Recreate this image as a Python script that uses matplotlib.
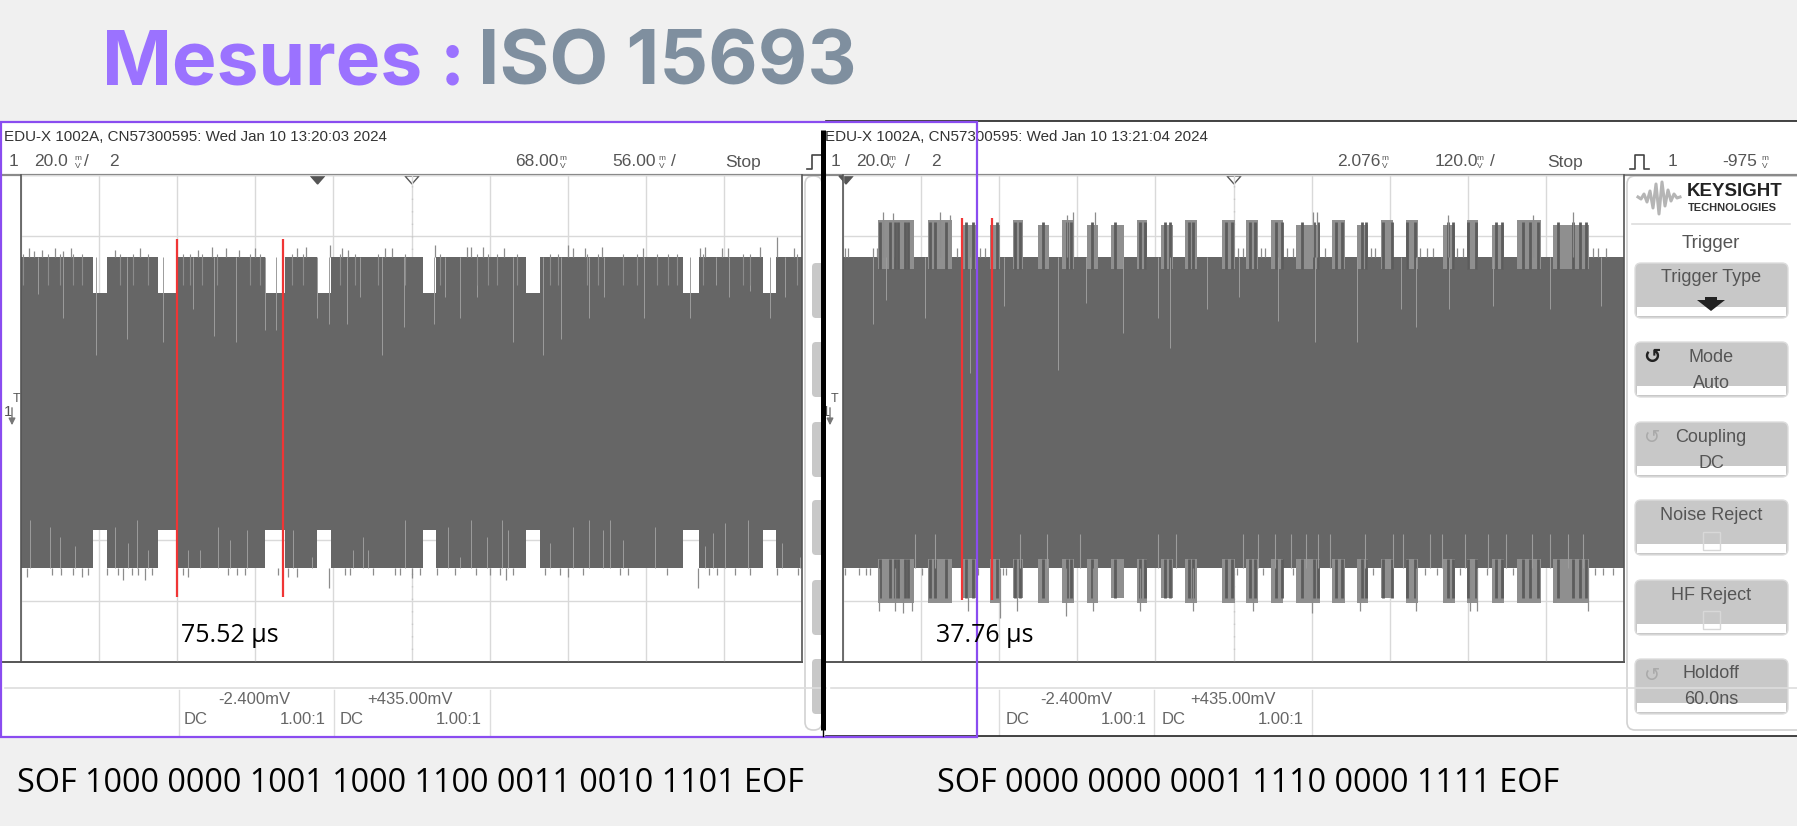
import matplotlib
matplotlib.use('Agg')
from matplotlib import pyplot as plt
from matplotlib.patches import Rectangle, FancyBboxPatch, Polygon

# --- scope 1 : 56 us/div, 20 mV/div ---
LEFT_GAPS = [(51.6, 61.7), (98, 111), (174.6, 189), (212, 222), (288, 297.6),
             (362, 372), (475, 486), (532, 541)]
LEFT_CORE_TOP, LEFT_CORE_BOT = 53, -49
LEFT_GAP_TOP, LEFT_GAP_BOT = 41.2, -36.6
LEFT_SPIKES_TOP = [(6, 55.9), (9, 55), (15.3, 55.5), (24.4, 56), (30.4, 55), (35.6, 56), (67.4, 55.5),
                   (85.3, 56), (127, 55.5), (136.7, 56.5), (147, 56), (156, 55.5), (168, 56), (198, 56),
                   (204.4, 56.5), (221.6, 57), (230, 56), (234.7, 55.5), (261, 56), (266, 56), (297, 57),
                   (320, 56.5), (323, 56.5), (331, 56.5), (346, 56), (392.5, 57), (396, 56), (404.5, 56),
                   (416.5, 56.5), (446, 56), (487, 56), (490.5, 56.5), (502.5, 56), (507, 56), (530, 56.5),
                   (542, 59.5), (554, 56)]
LEFT_NOTCH_TOP = [(12, 41), (30, 33), (54, 21), (76, 26), (102, 25), (123, 36), (138.5, 27), (154, 25), (175, 29),
                  (183, 29), (212, 33), (221, 31), (234, 31), (243, 40), (259, 21), (274.5, 30), (296, 31),
                  (304, 40), (315, 33), (327, 40), (353, 25), (374, 21), (387, 26), (407, 33), (418, 40),
                  (447, 33), (480, 33), (498, 44), (508, 40), (523, 42), (537, 33), (548, 40)]
LEFT_SHORT_TOP = [1.7, 19.6, 28, 37.5, 43.5, 71, 80.6, 91.3, 116.4, 121, 129.6, 140.3, 164.2, 171.4, 194, 202.5, 228.7,
                  239.5, 256.3, 275.4, 300.5, 326.8, 335, 341, 355.5, 379.4, 385.4, 405.7, 414, 432, 441.5, 455.9,
                  464.2, 470.2, 489.3, 518, 522.8, 556.2]
LEFT_SPIKES_BOT = [(4.1, -52), (22, -51.4), (29, -51.4), (37.5, -51.4), (43.5, -52), (48.3, -51.4), (61.4, -51.4),
                   (69.8, -51.4), (73.4, -53), (79.4, -51.4), (84.1, -51.4), (89, -53), (93.7, -51.4), (116.4, -51.4),
                   (120, -52), (148.7, -51.4), (154.7, -51.4), (160.6, -51.4), (184.5, -51.4), (191.7, -52),
                   (197.7, -52), (221, -55.7), (232.3, -51.4), (235.9, -51.4), (252.6, -51.4), (268, -51.4),
                   (271.8, -51.4), (280, -52.5), (286, -51.4), (298, -51.4), (311, -51.4), (326, -51.4), (336, -51.4),
                   (343.5, -51.4), (348, -53), (353, -51.4), (376, -51.4), (386.5, -51.4), (392.5, -52), (403, -51.4),
                   (429.6, -51.4), (435.5, -51.4), (463, -51.4), (485.7, -55.7), (493, -51.4), (499, -51.4),
                   (512, -51.4), (523, -51.4), (542, -51.4), (557, -51.4)]
LEFT_NOTCH_BOT = [(6.5, -33.3), (21, -35.5), (28, -38.8), (39, -42), (67.4, -35.5), (77, -41), (83, -33.3), (91, -43.2),
                  (120, -43.2), (128.4, -43.2), (141.5, -35.5), (150, -39.9), (162, -36.6), (195, -36.6), (208.5, -45.4),
                  (238, -43.2), (245.5, -38.8), (249, -43.2), (275, -33.3), (306.5, -35.5), (315, -45.4), (323, -33.3),
                  (334, -38.8), (345, -33.3), (349.5, -36.6), (379, -41), (396, -35.5), (407, -33.3), (417.6, -36.6),
                  (422, -33.3), (432, -39.9), (454.7, -35.5), (490.5, -42), (496.5, -37.7), (505, -34.4), (521.6, -33.3),
                  (545.5, -41), (558.6, -45.4)]
LEFT_CURSORS = [111.6, 188]

# --- scope 2 : 120 us/div, 20 mV/div ---
RIGHT_BURSTS = [(54, 109), (131, 167), (184, 206), (226, 241), (261, 277), (300, 317), (336, 355), (375, 392),
                (412, 432), (452, 467), (489, 507), (525, 544), (582, 602), (619, 638), (658, 676), (696, 733),
                (751, 771), (790, 807), (827, 845), (865, 883), (922, 940), (959, 976), (997, 1016), (1036, 1072),
                (1091, 1146)]
RIGHT_BURST_TOPS = [65.2, 65.2, 63.5, 63.5, 65.2, 63.5, 65.2, 63.5, 63.5, 65.2, 63.5, 65.2, 65.2, 65.2, 65.2, 63.5,
                    65.2, 63.5, 65.2, 65.2, 63.5, 65.2, 63.5, 65.2, 63.5]
RIGHT_BURST_BOTS = [-60.6, -60.6, -59, -60.6, -59, -60.6, -60.6, -60.6, -59, -60.6, -59, -60.6, -60.6, -60.6, -60.6,
                    -60.6, -60.6, -60.6, -59, -60.6, -60.6, -60.6, -60.6, -60.6, -60.6]
RIGHT_CORE_TOP, RIGHT_CORE_BOT = 53, -49
RIGHT_STREAKS = [57, 72, 80, 84, 96, 100, 134, 141, 159, 189, 200, 236, 264, 272, 308, 344, 351, 382, 418, 456, 464,
                 495, 502, 531, 538, 589, 597, 625, 633, 666, 674, 705, 723, 730, 758, 766, 797, 804, 830, 843, 866,
                 879, 930, 937, 961, 973, 1004, 1012, 1045, 1055, 1068, 1099, 1122, 1132, 1142]
RIGHT_SPIKES_TOP = [(62, 68), (77, 67.5), (149, 67.8), (164.4, 67), (344, 67), (354, 67.8), (387, 67.8), (721.6, 68),
                    (729, 67.8), (930, 67), (1059.5, 67), (1121, 67.8), (3, 56), (8, 56), (46, 56), (52, 56), (175, 56),
                    (211, 56), (218, 56), (607, 56), (615, 56), (643, 56), (648, 56), (682, 56), (692, 56), (741, 56),
                    (812, 56), (817, 56), (886, 56), (897, 56), (907, 56), (943, 56), (953, 56), (1153, 56), (1160, 56),
                    (1173, 56)]
RIGHT_NOTCH_TOP = [(46, 31), (66, 39), (126, 33), (195, 15), (247, 37), (330, 16), (374, 38), (430, 28), (484, 33),
                   (503, 23), (559, 36), (608, 40), (669, 32), (725, 25), (789, 25), (857, 36), (880, 30), (931, 36),
                   (999, 37), (1087, 36), (1165, 37)]
RIGHT_SPIKES_BOT = [(56, -63.4), (80, -63.4), (92.7, -63.8), (105.5, -63.4), (192.5, -63.4), (241, -65.7), (268, -63.4),
                    (342.5, -65), (384.5, -63.4), (456, -63.4), (538, -63.4), (630, -63.4), (720, -63.8), (794, -63.4),
                    (880, -63.4), (963, -63.4), (973.5, -63.4), (1145, -63.4), (3, -51.4), (24, -51.4), (36, -51.4),
                    (42, -51.4), (121, -51.4), (208, -51.4), (246, -51.4), (251, -51.4), (605, -51.4), (646, -51.4),
                    (692, -51.4), (815, -51.4), (894, -51.4), (912, -51.4), (948, -51.4), (989, -51.4), (1030, -51.4),
                    (1155, -51.4), (1168, -51.4), (1183, -51.4)]
RIGHT_NOTCH_BOT = [111, 141, 272, 313, 364, 484, 512, 615, 638, 664, 689, 712, 730, 748, 802, 845, 861, 902, 920, 956,
                   991, 1019, 1058, 1086, 1114, 1137]
RIGHT_CURSORS = [182.4, 228.5]

TITLE_A, TITLE_B = 'Mesures :', 'ISO 15693'
FRAME_LEFT = 'SOF 1000 0000 1001 1000 1100 0011 0010 1101 EOF'
FRAME_RIGHT = 'SOF 0000 0000 0001 1110 0000 1111 EOF'
TIME_LEFT, TIME_RIGHT = '75.52 µs', '37.76 µs'
HEADER_LEFT = 'EDU-X 1002A, CN57300595: Wed Jan 10 13:20:03 2024'
HEADER_RIGHT = 'EDU-X 1002A, CN57300595: Wed Jan 10 13:21:04 2024'
BUTTONS = [('Trigger Type', ''), ('Mode', 'Auto'), ('Coupling', 'DC'), ('Noise Reject', ''), ('HF Reject', ''),
           ('Holdoff', '60.0ns')]
BUTTON_TOPS = [263, 342, 422, 500, 580, 659]
LOGO_WAVE = [0, 2, -3, 5, -6, 11, -13, 17, -15, 9, -7, 4, -3, 1, 0]

W, H = 1797, 826
TRACE = '#666666'
NARROW = ['Liberation Sans', 'DejaVu Sans']
UI_GREY = '#555555'

fig = plt.figure(figsize=(W / 100, H / 100), dpi=100, facecolor='#f0f0f0')


def pixel_axes(z):
    a = fig.add_axes([0, 0, 1, 1], zorder=z)
    a.set_xlim(0, W)
    a.set_ylim(H, 0)
    a.axis('off')
    a.patch.set_alpha(0)
    return a


ui = pixel_axes(0)
over = pixel_axes(5)


def label(x, y, s, size=12.5, color=UI_GREY, ha='left', ax=ui, family=NARROW, **kw):
    ax.text(x, y, s, fontsize=size, color=color, ha=ha, va='center', family=family, **kw)


def unit(x, y, top, bottom):
    # the tiny stacked unit signs of the scope font
    label(x, y - 4, top, size=6, ha='center', family=NARROW)
    label(x, y + 4, bottom, size=6, ha='center', family=NARROW)


def scope_chrome(x0, x1, plot_x0, plot_x1, header, hx, time_labels, ticks):
    ui.add_patch(Rectangle((x0, 121), x1 - x0, 615, fc='white', ec='none'))
    label(hx, 137, header, size=10.9, color='#333333')
    ui.plot([x0, x1], [175, 175], color='#8a8a8a', lw=1.6)
    ui.plot([x0, plot_x1], [662, 662], color='#555555', lw=1.4)
    ui.plot([x0 + 5, x1], [688, 688], color='#dddddd', lw=1.2)
    for s, x in time_labels:
        label(x, 162, s)
    for x, (volts, dc_x, ratio_x) in ticks.items():
        ui.plot([x, x], [690, 735], color='#dddddd', lw=1)
        label(volts[1], 700, volts[0], size=12, color='#666666')
        label(dc_x, 720, 'DC', size=12, color='#666666')
        label(ratio_x, 720, '1.00:1', size=12, color='#666666')


def scope_axes(x0, x1, span):
    a = fig.add_axes([x0 / W, 1 - 662 / H, (x1 - x0) / W, (662 - 175) / H], zorder=2)
    a.set_xlim(0, span)
    a.set_ylim(-80, 80)
    a.patch.set_alpha(0)
    a.set_xticks([span / 10 * i for i in range(11)])
    a.set_yticks(range(-80, 81, 20))
    a.grid(True, color='#d9d9d9', lw=1)
    a.set_axisbelow(True)
    a.tick_params(length=0, labelbottom=False, labelleft=False)
    for side in a.spines:
        a.spines[side].set_color('#555555')
        a.spines[side].set_linewidth(1.2)
    a.spines['top'].set_visible(False)
    a.axvline(span / 2, color='#c8c8c8', lw=1, ls=(0, (1, 8)))
    return a


def trace_lines(a, points, base, color, lw=0.9):
    a.vlines([p[0] for p in points], base, [p[1] for p in points], color=color, lw=lw, zorder=3)


# left screenshot
scope_chrome(0, 826, 21, 802, HEADER_LEFT, 4,
             [('1', 9), ('20.0', 34), ('2', 109), ('68.00', 515), ('56.00', 612), ('Stop', 725)],
             {179: (('-2.400mV', 218), 184, 280), 334: (('+435.00mV', 367), 340, 436)})
ui.plot([490, 490], [690, 735], color='#dddddd', lw=1)
# right screenshot
scope_chrome(826, W, 843, 1624, HEADER_RIGHT, 825,
             [('1', 831), ('20.0', 856), ('2', 931), ('2.076', 1337), ('120.0', 1435), ('Stop', 1547), ('1', 1668),
              ('-975', 1722)],
             {999: (('-2.400mV', 1040), 1006, 1101), 1154: (('+435.00mV', 1190), 1162, 1258)})
ui.plot([1312, 1312], [690, 735], color='#dddddd', lw=1)
ui.plot([826, W], [121, 121], color='#222222', lw=1.2)
ui.plot([826, W], [736, 736], color='#222222', lw=1.2)

for ux in [77.5, 563, 662, 892, 1385, 1480, 1765]:
    unit(ux, 162, 'm', 'V')
for sx in [84, 671, 905, 1490]:
    label(sx, 162, '/')

# trigger marks and pulse icons
for x, dark in [(317.6, True), (412, False), (846, True), (1234, False)]:
    ui.add_patch(Polygon([(x - 7, 176), (x + 7, 176), (x, 184)], closed=True, fc='#555555' if dark else 'white',
                         ec='#555555', lw=1, zorder=6))
ui.plot([807, 812, 812, 821], [169, 169, 155, 155], color='#444444', lw=1.2)
ui.plot([1630, 1635, 1635, 1644, 1644, 1649], [169, 169, 155, 155, 169, 169], color='#444444', lw=1.2)
for lx in [4, 822]:
    label(lx, 412, '1', size=11)
    label(lx + 9, 399, 'T', size=9, color='#555555')
    ui.annotate('', xy=(lx + 8, 428), xytext=(lx + 8, 405), arrowprops=dict(arrowstyle='-|>', color='#777777', lw=1))

# side panels
for px0, px1 in [(805, 822), (1627, W + 8)]:
    ui.add_patch(FancyBboxPatch((px0, 176), px1 - px0, 554, boxstyle='round,pad=0,rounding_size=8', fc='white',
                                ec='#d2d2d2', lw=1.2))
for top in BUTTON_TOPS:
    ui.add_patch(FancyBboxPatch((812, top), 12, 55, boxstyle='round,pad=0,rounding_size=4', fc='#c8c8c8', ec='none'))
    ui.add_patch(FancyBboxPatch((1635, top), 153, 55, boxstyle='round,pad=0,rounding_size=6', fc='#c8c8c8',
                                ec='#dddddd', lw=1))
    ui.add_patch(Rectangle((1637, top + 44), 149, 9, fc='white', ec='none'))
for (first, second), top in zip(BUTTONS, BUTTON_TOPS):
    label(1711, top + 15, first, size=13, ha='center')
    if second:
        label(1711, top + 41, second, size=13, ha='center')
ui.add_patch(Polygon([(1697, 300), (1705, 300), (1705, 297), (1717, 297), (1717, 300), (1725, 300), (1711, 311)],
                     closed=True, fc='#222222', ec='none'))
label(1711, 243, 'Trigger', size=13.5, ha='center')
for bx, by in [(1652, 437), (1652, 675)]:
    label(bx, by, '↺', size=14, color='#aaaaaa', ha='center', family=['DejaVu Sans'])
label(1652, 357, '↺', size=15, color='#222222', ha='center', family=['DejaVu Sans'], weight='bold')
for by in [532, 611]:
    ui.add_patch(Rectangle((1703, by), 17, 18, fc='none', ec='#d8d8d8', lw=1))
ui.plot([1632, 1790], [224, 224], color='#dddddd', lw=1.2)
ui.plot([1638 + 3 * i for i in range(len(LOGO_WAVE))], [197 + v for v in LOGO_WAVE], color='#b5b5b5', lw=2.2)
label(1687, 192, 'KEYSIGHT', size=13.5, color='#222222', weight='bold')
label(1688, 208, 'TECHNOLOGIES', size=8, color='#333333', weight='bold', family=['Liberation Sans'])

# left trace
ax1 = scope_axes(21, 802, 560)
xs, tops, bots = [0], [LEFT_CORE_TOP], [LEFT_CORE_BOT]
for start, end in LEFT_GAPS:
    xs += [start, start, end, end]
    tops += [LEFT_CORE_TOP, LEFT_GAP_TOP, LEFT_GAP_TOP, LEFT_CORE_TOP]
    bots += [LEFT_CORE_BOT, LEFT_GAP_BOT, LEFT_GAP_BOT, LEFT_CORE_BOT]
xs.append(560)
tops.append(LEFT_CORE_TOP)
bots.append(LEFT_CORE_BOT)
ax1.fill_between(xs, bots, tops, color=TRACE, lw=0, zorder=2)
trace_lines(ax1, LEFT_SPIKES_TOP, LEFT_CORE_TOP, '#8c8c8c')
trace_lines(ax1, LEFT_SPIKES_BOT, LEFT_CORE_BOT, '#8c8c8c')
trace_lines(ax1, LEFT_NOTCH_TOP, LEFT_CORE_TOP, '#9c9c9c', lw=0.7)
trace_lines(ax1, LEFT_NOTCH_BOT, LEFT_CORE_BOT, '#9c9c9c', lw=0.7)
ax1.vlines(LEFT_SHORT_TOP, 44, LEFT_CORE_TOP + 1, color='#8c8c8c', lw=0.8, zorder=3)
ax1.vlines(LEFT_CURSORS, -58.7, 59, color='#f03535', lw=1.6, zorder=4)

# right trace
ax2 = scope_axes(843, 1624, 1200)
ax2.fill_between([0, 1200], RIGHT_CORE_BOT, RIGHT_CORE_TOP, color=TRACE, lw=0, zorder=2)
for (start, end), top, bot in zip(RIGHT_BURSTS, RIGHT_BURST_TOPS, RIGHT_BURST_BOTS):
    ax2.fill_between([start, end], RIGHT_CORE_TOP - 4, top, color='#8f8f8f', lw=0, zorder=2)
    ax2.fill_between([start, end], bot, RIGHT_CORE_BOT + 3, color='#8f8f8f', lw=0, zorder=2)
ax2.vlines(RIGHT_STREAKS, RIGHT_CORE_TOP - 4, 64.5, color='#5c5c5c', lw=2, zorder=3)
ax2.vlines(RIGHT_STREAKS, -59, RIGHT_CORE_BOT + 3, color='#5c5c5c', lw=2, zorder=3)
trace_lines(ax2, RIGHT_SPIKES_TOP, RIGHT_CORE_TOP, '#8c8c8c')
trace_lines(ax2, RIGHT_SPIKES_BOT, RIGHT_CORE_BOT, '#8c8c8c')
trace_lines(ax2, RIGHT_NOTCH_TOP, RIGHT_CORE_TOP, '#9c9c9c', lw=0.7)
ax2.vlines(RIGHT_NOTCH_BOT, RIGHT_CORE_BOT, -38, color='#9c9c9c', lw=0.8, zorder=3)
ax2.vlines(RIGHT_CURSORS, -59.6, 66, color='#f03535', lw=1.6, zorder=4)

# overlays
over.add_patch(Rectangle((1, 121.5), 976, 615, fc='none', ec='#8a4cf0', lw=1.6))
over.plot([822.5, 822.5], [130, 730], color='black', lw=3.6, solid_capstyle='butt')
over.plot([822.5, 822.5], [730, 736], color='black', lw=1)
SANS = ['Open Sans', 'DejaVu Sans']
label(181, 636, TIME_LEFT, size=18, color='black', ax=over, family=SANS)
label(936, 636, TIME_RIGHT, size=18, color='black', ax=over, family=SANS)
label(17, 784, FRAME_LEFT, size=23.3, color='black', ax=over, family=SANS)
label(937, 784, FRAME_RIGHT, size=23.3, color='black', ax=over, family=SANS)
label(102, 65, TITLE_A, size=54, color='#9b72ff', ax=over, family=['Inter', 'DejaVu Sans'], weight='bold')
label(478, 65, TITLE_B, size=55, color='#7f8f9f', ax=over, family=['Inter', 'DejaVu Sans'], weight='bold')

fig.savefig('out.png', dpi=100, facecolor=fig.get_facecolor())
